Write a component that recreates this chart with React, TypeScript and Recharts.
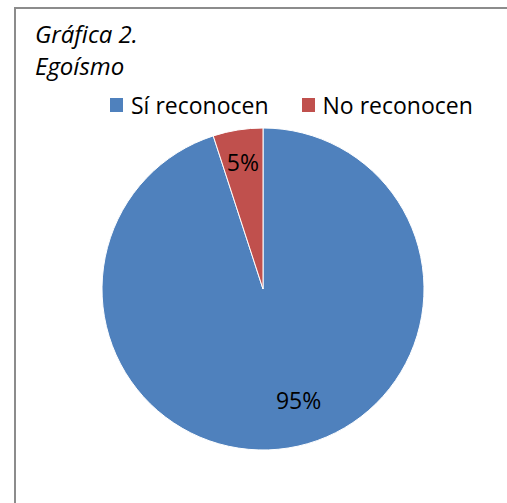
import { PieChart, Pie, Cell } from "recharts"

const categories = ["Sí reconocen", "No reconocen"]
const values = [95, 5]
const colors = ["#4F81BD", "#C0504D"]

const data = categories.map((name, i) => ({ name, value: values[i] }))

const FONT = "'Open Sans', 'Liberation Sans', sans-serif"
const RAD = Math.PI / 180

// Excel-like inside placement: small slice label sits nearer the rim
function renderLabel(props: any) {
  const { cx, cy, midAngle, outerRadius, value } = props
  const r = outerRadius * (value < 50 ? 0.8 : 0.7)
  const x = cx + r * Math.cos(-midAngle * RAD) + (value < 50 ? 0 : 18)
  const y = cy + r * Math.sin(-midAngle * RAD)
  return (
    <text x={x} y={y} fill="#000" fontSize={23} fontFamily={FONT} textAnchor="middle" dominantBaseline="central">
      {value}%
    </text>
  )
}

export default function App() {
  return (
    <div style={{ position: "fixed", left: 0, top: 0, width: 507, height: 503, overflow: "hidden", background: "#fff" }}>
      <div
        style={{
          position: "absolute",
          left: 14,
          top: 7,
          width: 600,
          height: 600,
          borderTop: "2px solid #8c8c8c",
          borderLeft: "2px solid #8c8c8c",
        }}
      />
      <div
        style={{
          position: "absolute",
          left: 35,
          top: 18,
          fontFamily: FONT,
          fontStyle: "italic",
          fontSize: 24,
          lineHeight: "32px",
          color: "#000",
        }}
      >
        <div>Gráfica 2.</div>
        <div>Egoísmo</div>
      </div>
      <div
        style={{
          position: "absolute",
          left: 110,
          top: 89,
          display: "flex",
          fontFamily: FONT,
          fontSize: 23,
          lineHeight: "32px",
          color: "#000",
          whiteSpace: "nowrap",
        }}
      >
        {data.map((d, i) => (
          <div key={d.name} style={{ display: "flex", alignItems: "center", marginRight: i === 0 ? 33 : 0 }}>
            <span style={{ width: 13, height: 14, background: colors[i], marginRight: 8, display: "inline-block" }} />
            <span>{d.name}</span>
          </div>
        ))}
      </div>
      <div style={{ position: "absolute", left: 0, top: 0 }}>
        <PieChart width={507} height={503} margin={{ top: 0, right: 0, bottom: 0, left: 0 }}>
          <Pie
            data={data}
            dataKey="value"
            nameKey="name"
            cx={263}
            cy={289}
            outerRadius={161}
            startAngle={90}
            endAngle={-270}
            stroke="#ffffff"
            strokeWidth={1}
            label={renderLabel}
            labelLine={false}
            isAnimationActive={false}
          >
            {data.map((d, i) => (
              <Cell key={d.name} fill={colors[i]} />
            ))}
          </Pie>
        </PieChart>
      </div>
    </div>
  )
}
